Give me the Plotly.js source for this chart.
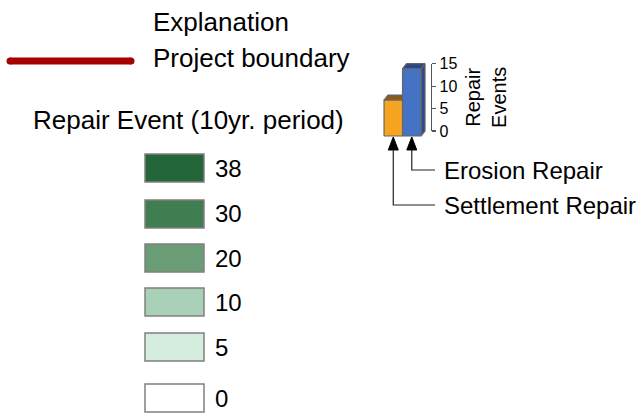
<!DOCTYPE html>
<html>
<head>
<meta charset="utf-8">
<script src="https://cdn.plot.ly/plotly-3.0.1.min.js"></script>
<style>html,body{margin:0;padding:0;background:#fff;}#chart{width:643px;height:414px;}</style>
</head>
<body>
<div id="chart"></div>
<script>
// ---- data ----
const legendTitle = 'Explanation';
const boundaryLabel = 'Project boundary';
const classTitle = 'Repair Event (10yr. period)';
const classLabels = ['38', '30', '20', '10', '5', '0'];
const classColors = ['#23663A', '#3F7E51', '#6A9C76', '#A9D1B7', '#D4EDDF', '#FFFFFF'];
const repairTypes = ['Settlement Repair', 'Erosion Repair'];
const repairEvents = [8, 15];
const repairFront = ['#F6A521', '#4472C4'];
const repairTop = ['#8C5A16', '#2A4683'];
const repairSide = ['#A86E10', '#2C4B8E'];
const miniTicks = [0, 5, 10, 15];
const miniAxisTitle = 'Repair<br>Events';

// ---- layout helpers (pixels -> paper) ----
const W = 643, H = 414;
const X = p => p / W;
const Y = p => 1 - p / H;
const FONT = 'Liberation Sans, Arial, sans-serif';

// mini chart geometry
const xr = [-0.75, 2.05], xPix = [379.4, 431.2];
const pxPerX = (xPix[1] - xPix[0]) / (xr[1] - xr[0]);
const zeroPix = 131, pxPerY = 4.49;
const yr2 = [-2, 17];
const ddx = 4 / pxPerX, ddy = 5 / pxPerY;
const xToPix = v => xPix[0] + (v - xr[0]) * pxPerX;
const yToPix = v => zeroPix - v * pxPerY;

const traces = [];
repairEvents.forEach((v, i) => {
  const c = i;
  const edge = {color: '#666666', width: 1.2};
  traces.push({type: 'scatter', mode: 'lines', xaxis: 'x2', yaxis: 'y2', fill: 'toself',
    x: [c + .5, c + .5 + ddx, c + .5 + ddx, c + .5, c + .5], y: [-ddy, 0, v, v - ddy, -ddy],
    fillcolor: repairSide[i], line: edge, hoverinfo: 'skip', showlegend: false});
  traces.push({type: 'scatter', mode: 'lines', xaxis: 'x2', yaxis: 'y2', fill: 'toself',
    x: [c - .5, c + .5, c + .5 + ddx, c - .5 + ddx, c - .5], y: [v - ddy, v - ddy, v, v, v - ddy],
    fillcolor: repairTop[i], line: edge, hoverinfo: 'skip', showlegend: false});
  traces.push({type: 'scatter', mode: 'lines', xaxis: 'x2', yaxis: 'y2', fill: 'toself',
    x: [c - .5, c + .5, c + .5, c - .5, c - .5], y: [-ddy, -ddy, v - ddy, v - ddy, -ddy],
    fillcolor: repairFront[i], line: edge, hoverinfo: 'skip', showlegend: false, name: repairTypes[i]});
});
// anchor trace for the visible mini axis
traces.push({type: 'scatter', mode: 'markers', xaxis: 'x2', yaxis: 'y3', x: [0], y: [0],
  marker: {opacity: 0}, hoverinfo: 'skip', showlegend: false});

const shapes = [];
const annotations = [];
const txt = (text, xp, yp, size) => annotations.push({text, xref: 'paper', yref: 'paper',
  x: X(xp), y: Y(yp), xanchor: 'left', yanchor: 'middle', showarrow: false,
  font: {family: FONT, size: size || 26, color: '#000'}});

// header texts
txt(legendTitle, 151, 22);
txt(boundaryLabel, 151, 58);
txt(classTitle, 31, 120);

// project boundary line
const redC = '#A60000';
shapes.push({type: 'line', xref: 'paper', yref: 'paper', x0: X(10), x1: X(131), y0: Y(61), y1: Y(61),
  line: {color: redC, width: 7}});
[10, 131].forEach(cx => shapes.push({type: 'circle', xref: 'paper', yref: 'paper',
  x0: X(cx - 3.5), x1: X(cx + 3.5), y0: Y(61 + 3.5), y1: Y(61 - 3.5), fillcolor: redC, line: {width: 0}}));

// class swatches
const rowCenters = [168, 214, 258, 302, 347, 398];
classLabels.forEach((lab, i) => {
  const cy = rowCenters[i];
  shapes.push({type: 'rect', xref: 'paper', yref: 'paper', x0: X(145), x1: X(204),
    y0: Y(cy + 14), y1: Y(cy - 14), fillcolor: classColors[i], line: {color: '#808080', width: 1.5}});
  txt(lab, 213, cy, 24);
});

// leader arrows and labels for the mini chart
const labelRows = [205, 170];
repairTypes.forEach((name, i) => {
  const cx = xToPix(i);
  const tip = yToPix(-ddy) + 1;
  const base = tip + 13;
  const ly = labelRows[i];
  shapes.push({type: 'path', xref: 'paper', yref: 'paper',
    path: `M${X(cx)},${Y(tip)} L${X(cx - 5)},${Y(base)} L${X(cx + 5)},${Y(base)} Z`,
    fillcolor: '#000', line: {color: '#000', width: 1}});
  shapes.push({type: 'path', xref: 'paper', yref: 'paper',
    path: `M${X(cx)},${Y(base)} L${X(cx)},${Y(ly)} L${X(435)},${Y(ly)}`,
    line: {color: '#222', width: 1.2}});
  txt(name, 442, ly, 24);
});

const layout = {
  width: W, height: H,
  margin: {l: 0, r: 0, t: 0, b: 0},
  paper_bgcolor: '#fff', plot_bgcolor: 'rgba(0,0,0,0)',
  showlegend: false,
  xaxis: {visible: false}, yaxis: {visible: false},
  xaxis2: {domain: [X(xPix[0]), X(xPix[1])], range: xr, visible: false, anchor: 'y2', fixedrange: true},
  yaxis2: {domain: [Y(yToPix(yr2[0])), Y(yToPix(yr2[1]))], range: yr2, visible: false, anchor: 'x2', fixedrange: true},
  yaxis3: {domain: [Y(yToPix(0)), Y(yToPix(15))], range: [0, 15], anchor: 'x2', side: 'right',
    showline: true, linecolor: '#555', linewidth: 1.2, ticks: 'outside', ticklen: 4, tickwidth: 1.2,
    tickcolor: '#555', tickvals: miniTicks, showgrid: false, zeroline: false,
    tickfont: {family: FONT, size: 16, color: '#000'},
    title: {text: miniAxisTitle, font: {family: FONT, size: 20, color: '#000'}, standoff: 9}},
  shapes, annotations
};

Plotly.newPlot('chart', traces, layout, {displayModeBar: false, staticPlot: true});
</script>
</body>
</html>
